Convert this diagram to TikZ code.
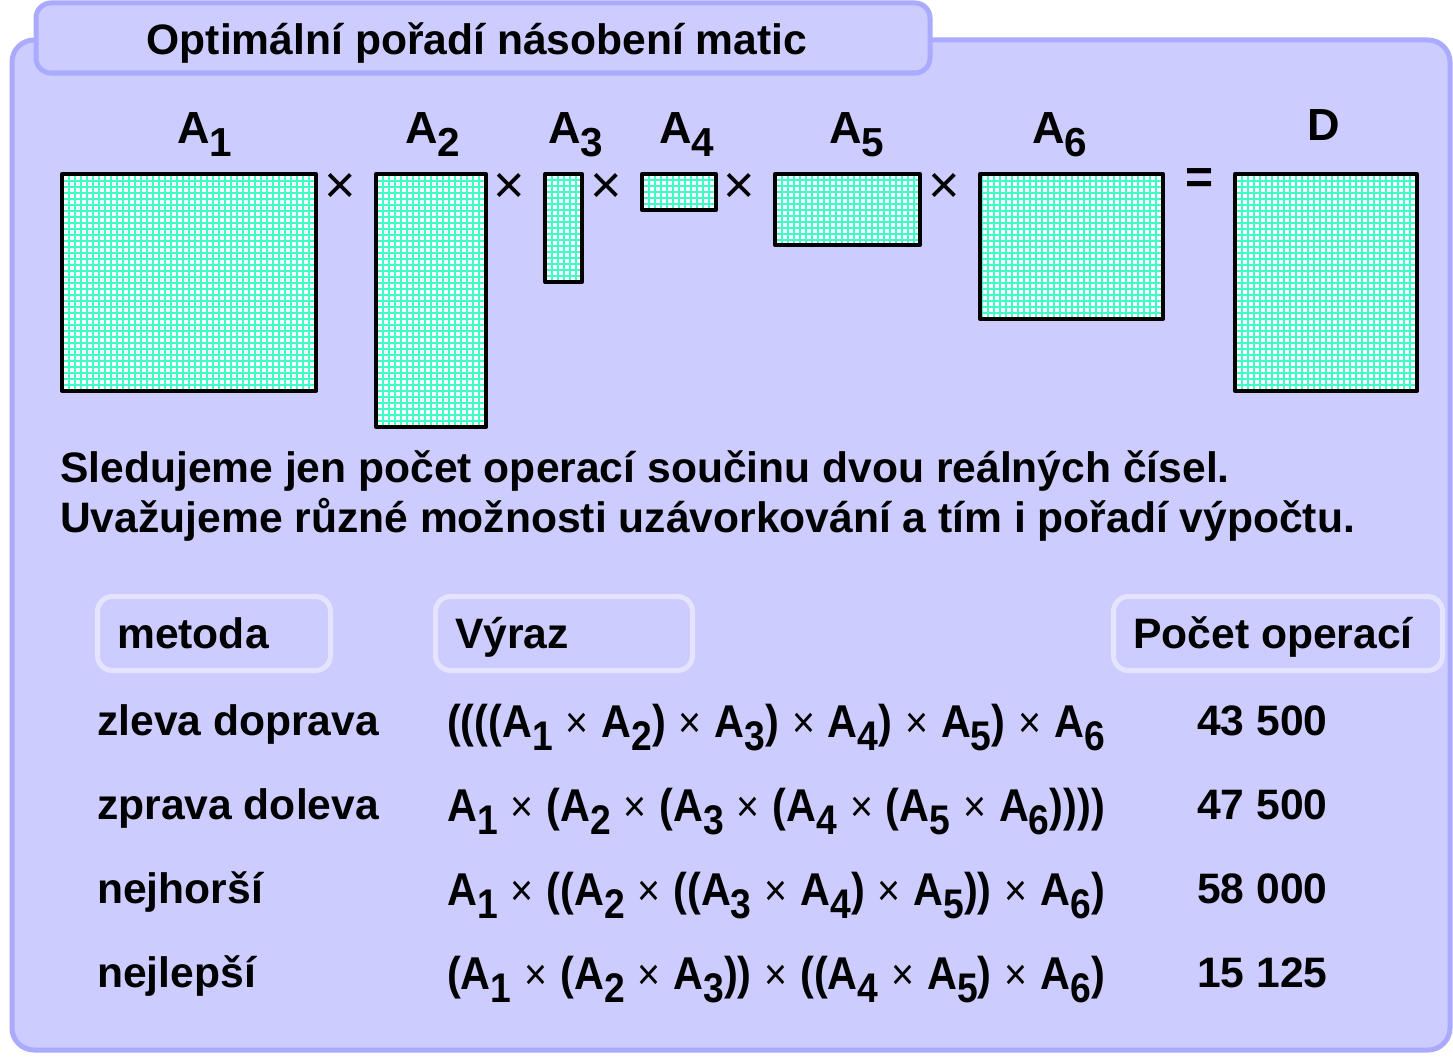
\documentclass[tikz,border=0pt]{standalone}
\usepackage{fontspec}
\setmainfont{Liberation Sans}
\newfontfamily\uzkyfont[FakeStretch=0.9]{Liberation Sans}
\definecolor{panelfill}{RGB}{204,204,255}
\definecolor{panelokraj}{RGB}{170,170,255}
\definecolor{hlavokraj}{RGB}{228,228,255}
\definecolor{mrizka}{RGB}{64,250,200}
\newcommand{\ind}[1]{\raisebox{-.3em}{\scalebox{.9}{#1}}}
\newcommand{\kr}{\hspace{.28em}{\mdseries\scalebox{.95}{×}}\hspace{.28em}}
\newcommand{\velky}{\fontsize{42.6}{50}\selectfont\bfseries}
\begin{document}
\begin{tikzpicture}[x=1pt, y=-1pt,
                    font=\velky,
                    line join=round,
                    ]
    \tikzstyle{panel}=[fill=panelfill, draw=panelokraj, line width=5pt, rounded corners=22pt]
    \tikzstyle{zalozka}=[panel, rounded corners=15pt]
    \tikzstyle{hlavicka}=[rectangle, fill=panelfill, draw=hlavokraj, line width=5pt,
                          rounded corners=15pt, minimum height=74pt, inner sep=0pt]
    \tikzstyle{matice}=[rectangle, draw=black, line width=4pt, fill=white, inner sep=0pt,
                        anchor=north west,
                        path picture={\draw[mrizka, line width=2pt, step=6pt]
                            (path picture bounding box.south west) grid (path picture bounding box.north east);}]
    \tikzstyle{popisek}=[anchor=base west, inner sep=0pt]
    \tikzstyle{nazev}=[popisek, font=\fontsize{45}{50}\selectfont\bfseries]
    \tikzstyle{krat}=[font=\fontsize{54}{60}\selectfont, inner sep=0pt, anchor=base,
                      text height=31pt, text depth=0pt]
    \tikzstyle{vyraz}=[popisek, font=\fontsize{46}{50}\selectfont\uzkyfont\bfseries]

    \useasboundingbox (0,0) rectangle (1453,1057);
    \fill[white] (0,0) rectangle (1453,1057);

    % panel a zalozka s nadpisem
    \draw[panel] (12,40) rectangle (1450,1050);
    \draw[zalozka] (36,3) rectangle (930,73);
    \node[anchor=base, inner sep=0pt] (nadpis) at (477,55) {Optimální pořadí násobení matic};

    % matice
    \node[matice, minimum width=254pt, minimum height=217pt] (A1) at (60,172) {};
    \node[matice, minimum width=110pt, minimum height=253pt] (A2) at (374,172) {};
    \node[matice, minimum width=37pt, minimum height=108pt] (A3) at (543,172) {};
    \node[matice, minimum width=74pt, minimum height=36pt] (A4) at (640,172) {};
    \node[matice, minimum width=145pt, minimum height=71pt] (A5) at (773,172) {};
    \node[matice, minimum width=183pt, minimum height=145pt] (A6) at (978,172) {};
    \node[matice, minimum width=182pt, minimum height=217pt] (D) at (1233,172) {};

    \node[nazev] (lA1) at (177,143) {A\ind{1}};
    \node[nazev] (lA2) at (405,143) {A\ind{2}};
    \node[nazev] (lA3) at (548,143) {A\ind{3}};
    \node[nazev] (lA4) at (659,143) {A\ind{4}};
    \node[nazev] (lA5) at (829,143) {A\ind{5}};
    \node[nazev] (lA6) at (1032,143) {A\ind{6}};
    \node[nazev] (lD) at (1307,140) {D};

    \node[krat] (k1) at (340,203) {×};
    \node[krat] (k2) at (509,203) {×};
    \node[krat] (k3) at (606,203) {×};
    \node[krat] (k4) at (739,203) {×};
    \node[krat] (k5) at (944,203) {×};
    \node[inner sep=0pt, font=\fontsize{48}{50}\selectfont\bfseries] (rovno) at (1199,181) {=};

    % popis
    \node[popisek] (veta1) at (60,482) {Sledujeme jen počet operací součinu dvou reálných čísel.};
    \node[popisek] (veta2) at (60,532) {Uvažujeme různé možnosti uzávorkování a tím i pořadí výpočtu.};

    % tabulka
    \node[hlavicka, minimum width=233pt, anchor=north west] (hMetoda) at (95,594) {};
    \node[hlavicka, minimum width=257pt, anchor=north west] (hVyraz) at (433,594) {};
    \node[hlavicka, minimum width=329pt, anchor=north west] (hPocet) at (1111,594) {};
    \node[popisek] (tMetoda) at (117,648) {metoda};
    \node[popisek] (tVyraz) at (455,648) {Výraz};
    \node[popisek] (tPocet) at (1133,648) {Počet operací};

    \node[popisek] (m1) at (97,735) {zleva doprava};
    \node[popisek] (m2) at (97,819) {zprava doleva};
    \node[popisek] (m3) at (97,903) {nejhorší};
    \node[popisek] (m4) at (97,987) {nejlepší};

    \node[vyraz] (v1) at (447,737) {((((A\ind{1}\kr A\ind{2})\kr A\ind{3})\kr A\ind{4})\kr A\ind{5})\kr A\ind{6}};
    \node[vyraz] (v2) at (447,821) {A\ind{1}\kr (A\ind{2}\kr (A\ind{3}\kr (A\ind{4}\kr (A\ind{5}\kr A\ind{6}))))};
    \node[vyraz] (v3) at (447,905) {A\ind{1}\kr ((A\ind{2}\kr ((A\ind{3}\kr A\ind{4})\kr A\ind{5}))\kr A\ind{6})};
    \node[vyraz] (v4) at (447,989) {(A\ind{1}\kr (A\ind{2}\kr A\ind{3}))\kr ((A\ind{4}\kr A\ind{5})\kr A\ind{6})};

    \node[popisek] (p1) at (1197,735) {43 500};
    \node[popisek] (p2) at (1197,819) {47 500};
    \node[popisek] (p3) at (1197,903) {58 000};
    \node[popisek] (p4) at (1197,987) {15 125};
\end{tikzpicture}
\end{document}
